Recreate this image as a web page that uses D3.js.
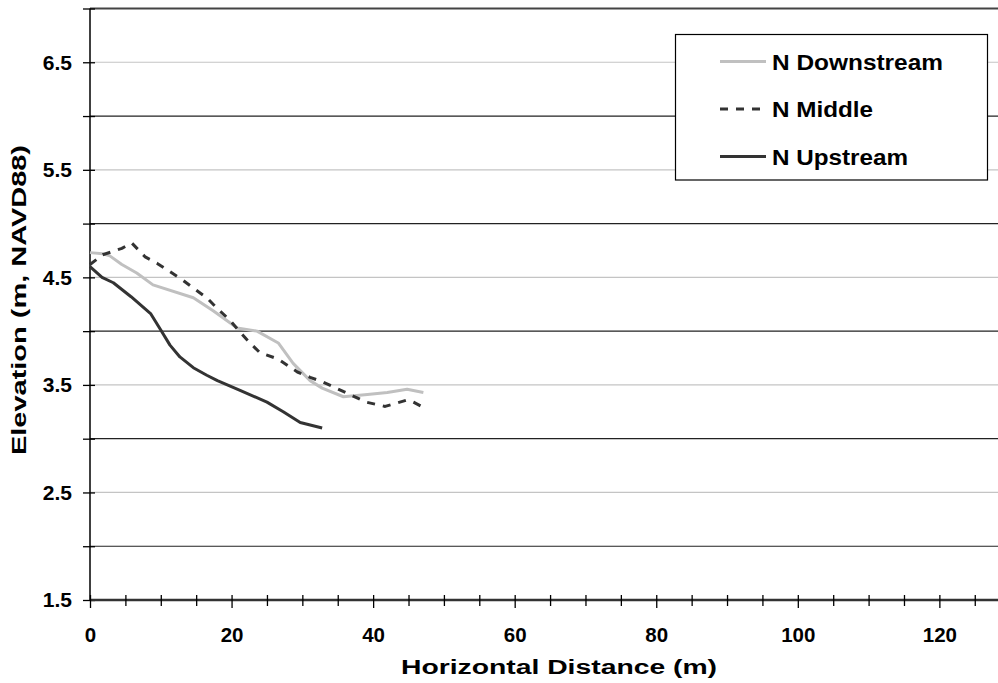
<!DOCTYPE html>
<html>
<head>
<meta charset="utf-8">
<script src="https://cdn.jsdelivr.net/npm/d3@7"></script>
<style>
  html, body { margin: 0; padding: 0; background: #fff; }
  svg { display: block; font-family: "Liberation Sans", Arial, sans-serif; }
</style>
</head>
<body>
<svg id="chart" width="998" height="683"></svg>
<script>
// ---- data ----
const downstreamX = [0, 1.8, 2.8, 4.5, 6.6, 8.9, 14.6, 17.4, 20.8, 23.6, 26.6, 28.7, 31.1, 32.8, 35.8, 39.2, 42.0, 44.8, 47.1];
const downstreamY = [4.73, 4.72, 4.70, 4.62, 4.54, 4.43, 4.31, 4.19, 4.03, 4.00, 3.89, 3.70, 3.54, 3.47, 3.39, 3.41, 3.43, 3.46, 3.43];

const middleX = [0, 1.8, 4.5, 5.9, 7.8, 9.5, 10.9, 13.2, 14.6, 16.5, 18.0, 19.8, 21.2, 22.6, 24.0, 26.6, 29.3, 31.1, 32.8, 36.1, 39.0, 41.7, 44.8, 45.7, 47.4];
const middleY = [4.62, 4.71, 4.77, 4.82, 4.69, 4.63, 4.57, 4.47, 4.40, 4.31, 4.21, 4.10, 3.99, 3.89, 3.80, 3.74, 3.62, 3.57, 3.53, 3.43, 3.34, 3.30, 3.36, 3.34, 3.28];

const upstreamX = [0, 1.7, 3.3, 5.8, 8.6, 10.0, 11.3, 12.7, 14.6, 16.5, 18.0, 21.2, 25.0, 27.3, 29.7, 32.8];
const upstreamY = [4.60, 4.50, 4.45, 4.32, 4.16, 4.01, 3.87, 3.76, 3.66, 3.59, 3.54, 3.45, 3.34, 3.25, 3.15, 3.10];

const seriesNames = ["N Downstream", "N Middle", "N Upstream"];
const xTickValues = [0, 20, 40, 60, 80, 100, 120];
const yTickLabels = [1.5, 2.5, 3.5, 4.5, 5.5, 6.5];
const xDomain = [0, 128];
const yDomain = [1.5, 7.0];
const xTitle = "Horizontal Distance (m)";
const yTitle = "Elevation (m, NAVD88)";

// ---- layout ----
const padL = 90, padR = 996, padT = 8.5, padB = 600;
const svg = d3.select("#chart");
const x = d3.scaleLinear().domain(xDomain).range([padL, padR]);
const y = d3.scaleLinear().domain(yDomain).range([padB, padT]);

// gridlines
const halfSteps = d3.range(2.0, 7.01, 0.5);
svg.append("g").selectAll("line").data(halfSteps).join("line")
  .attr("x1", padL).attr("x2", 998)
  .attr("y1", d => y(d)).attr("y2", d => y(d))
  .attr("stroke", d => d === 7 ? "#444" : (Math.abs(d - Math.round(d)) < 1e-6 ? "#222" : "#c4c4c4"))
  .attr("stroke-width", d => d === 7 ? 2.2 : 1.2);

// y axis
const yAxis = d3.axisLeft(y)
  .tickValues(d3.range(1.5, 7.01, 0.5))
  .tickSize(7)
  .tickFormat(d => yTickLabels.some(v => Math.abs(v - d) < 1e-6) ? d3.format(".1f")(d) : "");
const gy = svg.append("g").attr("transform", `translate(${padL},0)`).call(yAxis);
gy.select(".domain").attr("stroke", "#000").attr("stroke-width", 1.5).attr("d", `M0,${padT}V${padB}`);
gy.selectAll(".tick line").attr("stroke", "#000").attr("stroke-width", 1.3).attr("x2", -7).attr("x1", 5);
gy.selectAll(".tick text").attr("x", -18).attr("font-size", 21).attr("font-weight", "bold")
  .attr("font-family", "Liberation Sans, Arial, sans-serif").attr("fill", "#000");

// x axis
const xAxis = d3.axisBottom(x)
  .tickValues(d3.range(0, 128, 5))
  .tickSize(7)
  .tickFormat(d => xTickValues.includes(d) ? d : "");
const gx = svg.append("g").attr("transform", `translate(0,${padB})`).call(xAxis);
gx.select(".domain").attr("stroke", "#333").attr("stroke-width", 2.5).attr("d", `M${padL},0H998`);
gx.selectAll(".tick line").attr("stroke", "#000").attr("stroke-width", 1.3)
  .attr("y1", -5).attr("y2", d => xTickValues.includes(d) ? 8 : 6);
gx.selectAll(".tick text").attr("y", 27).attr("dy", "0.71em").attr("font-size", 20.5).attr("font-weight", "bold")
  .attr("font-family", "Liberation Sans, Arial, sans-serif").attr("fill", "#000");

// series
const line = d3.line().x(d => x(d[0])).y(d => y(d[1]));
const zip = (a, b) => a.map((v, i) => [v, b[i]]);
const series = [
  { name: seriesNames[0], pts: zip(downstreamX, downstreamY), color: "#c0c0c0", dash: null, len: 171 },
  { name: seriesNames[1], pts: zip(middleX, middleY), color: "#333", dash: "8,8", len: 101 },
  { name: seriesNames[2], pts: zip(upstreamX, upstreamY), color: "#333", dash: null, len: 136 }
];
svg.append("g").selectAll("path").data(series).join("path")
  .attr("d", d => line(d.pts))
  .attr("fill", "none")
  .attr("stroke", d => d.color)
  .attr("stroke-width", 3)
  .attr("stroke-dasharray", d => d.dash)
  .attr("stroke-linejoin", "round");

// legend
const lg = svg.append("g");
lg.append("rect").attr("x", 675.5).attr("y", 34.5).attr("width", 312).attr("height", 145.5)
  .attr("fill", "#fff").attr("stroke", "#000").attr("stroke-width", 1.2);
const rowsY = [61.5, 109, 156.5];
series.forEach((s, i) => {
  lg.append("line").attr("x1", 720).attr("x2", 766).attr("y1", rowsY[i]).attr("y2", rowsY[i])
    .attr("stroke", s.color).attr("stroke-width", 3).attr("stroke-dasharray", s.dash);
  lg.append("text").attr("x", 772).attr("y", rowsY[i]).attr("dy", "0.36em")
    .attr("font-size", 22.5).attr("font-weight", "bold").attr("fill", "#000")
    .attr("textLength", s.len).attr("lengthAdjust", "spacingAndGlyphs").text(s.name);
});

// axis titles
svg.append("text").attr("x", 559).attr("y", 674).attr("text-anchor", "middle")
  .attr("font-size", 20).attr("font-weight", "bold").attr("fill", "#000")
  .attr("textLength", 316).attr("lengthAdjust", "spacingAndGlyphs").text(xTitle);
svg.append("text").attr("transform", "translate(26,300) rotate(-90)").attr("text-anchor", "middle")
  .attr("font-size", 21).attr("font-weight", "bold").attr("fill", "#000")
  .attr("textLength", 310).attr("lengthAdjust", "spacingAndGlyphs").text(yTitle);
</script>
</body>
</html>
